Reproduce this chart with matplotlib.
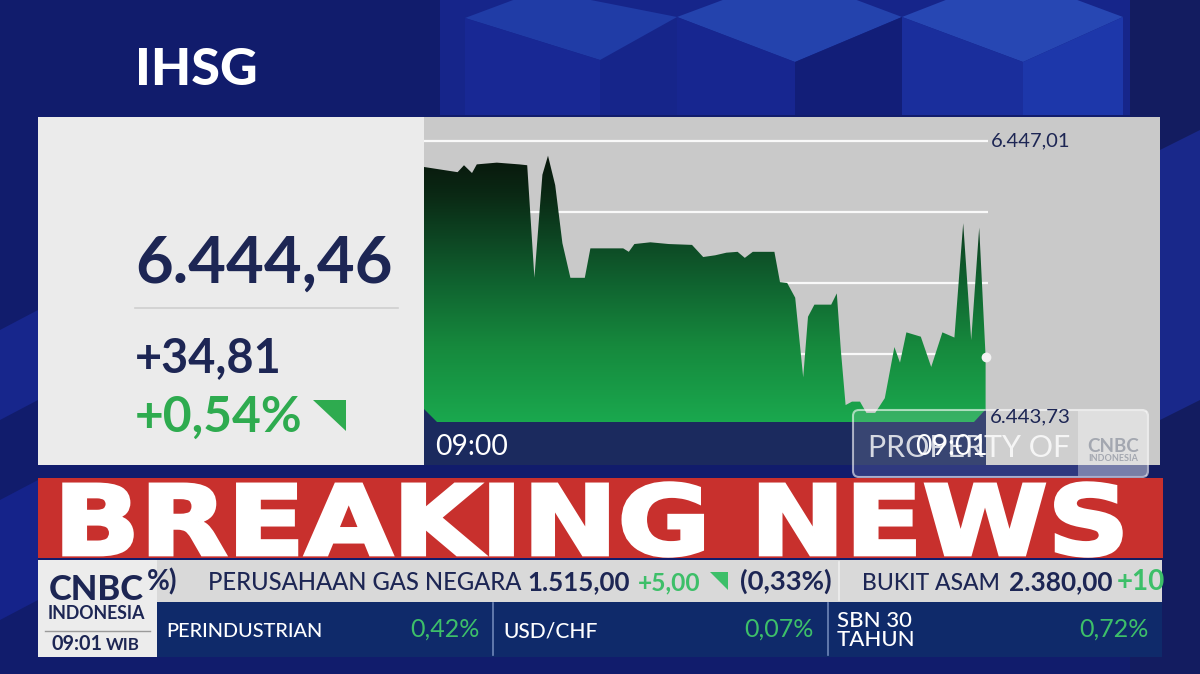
import numpy as np
import matplotlib
matplotlib.use('Agg')
import matplotlib.pyplot as plt
from matplotlib.patches import Polygon, Rectangle, FancyBboxPatch, PathPatch
from matplotlib.colors import LinearSegmentedColormap
from matplotlib.textpath import TextPath
from matplotlib.font_manager import FontProperties
from matplotlib.transforms import Affine2D

# IHSG intraday, seconds after 09:00 and index level
sec = [0, 4.2, 5, 6, 6.6, 9.1, 11.9, 12.9, 13.8, 14.8, 15.5, 16.4, 17.3, 18.3,
       20.1, 20.8, 24.9, 25.6, 26.3, 28.3, 30.6, 33.5, 34.9, 36.4, 37.8, 39.2,
       40.1, 41.1, 43.8, 44.5, 45.4, 46.4, 47.4, 48.0, 48.8, 50.9, 51.6, 52.1,
       52.7, 53.5, 54.5, 55.3, 56.4, 57.6, 58.8, 59.5, 60.3, 62.1, 63.4, 64.8,
       66.3, 67.4, 68.4, 69.4, 70.2]
level = [6446.71, 6446.65, 6446.73, 6446.64, 6446.74, 6446.76, 6446.74, 6446.73,
         6445.43, 6446.62, 6446.84, 6446.50, 6445.83, 6445.43, 6445.43, 6445.77,
         6445.77, 6445.73, 6445.82, 6445.84, 6445.82, 6445.81, 6445.67, 6445.69,
         6445.72, 6445.73, 6445.66, 6445.73, 6445.73, 6445.38, 6445.37, 6445.20,
         6444.28, 6444.98, 6445.12, 6445.12, 6445.25, 6444.60, 6443.96, 6444.00,
         6444.00, 6443.87, 6443.87, 6444.04, 6444.63, 6444.45, 6444.80, 6444.75,
         6444.40, 6444.80, 6444.74, 6446.06, 6444.71, 6446.01, 6444.52]
grid_levels = [6447.01, 6446.19, 6445.37, 6444.55]
hi_label, lo_label = '6.447,01', '6.443,73'
time_labels = ['09:00', '09:01']

last_value = '6.444,46'
change_abs = '+34,81'
change_pct = '+0,54%'

ticker_top = [('PERUSAHAAN GAS NEGARA', '1.515,00', '+5,00', '(0,33%)'),
              ('BUKIT ASAM', '2.380,00', '+10', '')]
ticker_bottom = [('PERINDUSTRIAN', '0,42%'), ('USD/CHF', '0,07%'), ('SBN 30\nTAHUN', '0,72%')]

NAVY = '#1d2654'
GREEN = '#2eab4f'
TGREEN = '#3dbf69'
FONT = 'Lato'

fig = plt.figure(figsize=(12, 6.74), dpi=100)
R = fig.canvas.get_renderer()

bg = fig.add_axes([0, 0, 1, 1], zorder=0)
bg.set_xlim(0, 1200)
bg.set_ylim(674, 0)
bg.axis('off')

ov = fig.add_axes([0, 0, 1, 1], zorder=2)
ov.set_xlim(0, 1200)
ov.set_ylim(674, 0)
ov.axis('off')
ov.patch.set_alpha(0)


def put(a, x, y, s, w=None, size=14, **kw):
    kw.setdefault('va', 'baseline')
    kw.setdefault('family', FONT)
    t = a.text(x, y, s, fontsize=size, **kw)
    if w:
        bb = t.get_window_extent(renderer=R)
        t.set_fontsize(size * w / bb.width)
    return t


def poly(a, pts, c, **kw):
    a.add_patch(Polygon(pts, closed=True, fc=c, ec='none', **kw))


# %% background with cubes
bg.add_patch(Rectangle((0, 0), 1200, 674, fc='#111c6c', ec='none'))
poly(bg, [(440, 0), (1130, 0), (1130, 115), (440, 115)], '#16258a')
poly(bg, [(677, 17), (790, -25), (902, 17), (795, 62)], '#2443ad')
poly(bg, [(902, 17), (1010, -25), (1123, 17), (1023, 62)], '#2747b3')
poly(bg, [(465, 18), (540, -10), (677, 17), (600, 60)], '#203ca6')
poly(bg, [(677, 17), (795, 62), (795, 115), (677, 115)], '#172690')
poly(bg, [(795, 62), (902, 17), (902, 115), (795, 115)], '#121e78')
poly(bg, [(902, 17), (1023, 62), (1023, 115), (902, 115)], '#1a2e9c')
poly(bg, [(1023, 62), (1123, 17), (1123, 115), (1023, 115)], '#1d37aa')
poly(bg, [(465, 18), (600, 60), (600, 115), (465, 115)], '#182894')
poly(bg, [(1130, 0), (1200, 0), (1200, 674), (1130, 674)], '#131c60')
poly(bg, [(1160, 150), (1200, 130), (1200, 400), (1160, 420)], '#19288a')
poly(bg, [(0, 330), (38, 310), (38, 400), (0, 420)], '#17268c')
poly(bg, [(0, 500), (38, 480), (38, 600), (0, 620)], '#15238a')

# %% panels
bg.add_patch(Rectangle((38, 117), 386, 348, fc='#ebebeb', ec='none'))
bg.add_patch(Rectangle((424, 117), 736, 348, fc='#c9c9c9', ec='none'))
bg.plot([135, 398], [308, 308], color='#cfcfcf', lw=1.2)

put(bg, 135, 85, 'IHSG', w=122, size=36, color='white', weight='black')
put(bg, 135, 283, last_value, w=258, size=46, color=NAVY, weight='bold')
put(bg, 135, 372, change_abs, w=147, size=34, color=NAVY, weight='bold')
put(bg, 135, 432, change_pct, w=168, size=34, color=GREEN, weight='bold')
poly(bg, [(313, 400), (346, 400), (346, 431)], GREEN)

# %% chart
ylo = 6443.73 + 3 * 3.28 / 284
yhi = 6443.73 + 308 * 3.28 / 284
ax = fig.add_axes([424 / 1200, 1 - 422 / 674, (988 - 424) / 1200, (422 - 117) / 674], zorder=1)
ax.set_facecolor('none')
for g in grid_levels:
    ax.axhline(g, color='white', lw=1.6, alpha=0.9, zorder=1)
fill = ax.fill_between(sec, level, ylo, facecolor='none', edgecolor='none', zorder=2)
cmap = LinearSegmentedColormap.from_list('ihsg', [
    (0.0, '#1aa84e'), (0.25, '#16893d'), (0.45, '#106430'), (0.6, '#0d4623'),
    (0.75, '#0a2814'), (0.9, '#08130a'), (1.0, '#060d07')])
grad = np.linspace(0, 1, 256).reshape(-1, 1)
im = ax.imshow(grad, extent=[0, 70.5, ylo, yhi], origin='lower', aspect='auto',
               cmap=cmap, zorder=2)
im.set_clip_path(fill.get_paths()[0], transform=ax.transData)
ax.plot(sec[-1], level[-1], 'o', color='#f2f2f2', ms=6, zorder=4, clip_on=False)
ax.set_xlim(0, 70.5)
ax.set_ylim(ylo, yhi)
ax.axis('off')

ax.text(1.005, grid_levels[0], hi_label, transform=ax.get_yaxis_transform(),
        ha='left', va='center', fontsize=14.5, color=NAVY, family=FONT)

# time bar under the chart
poly(ov, [(424, 409), (437, 422), (974, 422), (986, 409), (986, 465), (424, 465)], '#1b2a5e')
put(ov, 435, 455, time_labels[0], w=73, size=18, color='white')
put(ov, 915, 455, time_labels[1], w=73, size=18, color='white')
put(ov, 990, 422, lo_label, w=81, size=14.5, color=NAVY)

# watermark
ov.add_patch(FancyBboxPatch((853, 410), 295, 67, boxstyle='round,pad=0,rounding_size=6',
                            fc=(1, 1, 1, 0.13), ec=(1, 1, 1, 0.6), lw=1.5))
ov.add_patch(Rectangle((1078, 411), 69, 65, fc=(1, 1, 1, 0.35), ec='none'))
put(ov, 868, 457, 'PROPERTY OF', w=202, size=20, color=(1, 1, 1, 0.8))
put(ov, 1087, 452, 'CNBC', w=52, size=14, color='#a3a7b0', weight='bold')
put(ov, 1088, 461, 'INDONESIA', w=50, size=6, color='#a3a7b0', weight='bold')

# %% breaking news banner
ov.add_patch(Rectangle((38, 478), 1125, 80, fc='#c8302d', ec='none'))
tp = TextPath((0, 0), 'BREAKING NEWS', size=100,
              prop=FontProperties(family='DejaVu Sans', weight='bold'))
ext = tp.get_extents()
tr = (Affine2D().translate(-ext.x0, -ext.y0)
      .scale((1121 - 64) / ext.width, -(556 - 483) / ext.height).translate(64, 556))
ov.add_patch(PathPatch(tr.transform_path(tp), fc='white', ec='white', lw=2.5,
                       joinstyle='miter'))

# %% ticker rows
ov.add_patch(Rectangle((150, 560), 1012, 42, fc='#d9d9d9', ec='none'))
ov.add_patch(Rectangle((150, 602), 1012, 55, fc='#0f2a6a', ec='none'))
put(ov, 177, 590, '%)', size=20, color=NAVY, weight='bold', ha='right')

name, price, chg, pct = ticker_top[0]
put(ov, 208, 590, name, w=314, size=20, color=NAVY, weight='medium')
put(ov, 527, 590, price, w=103, size=20, color=NAVY, weight='bold')
put(ov, 638, 590, chg, w=63, size=20, color=TGREEN, weight='bold')
poly(ov, [(710, 572), (728, 572), (728, 590)], TGREEN)
put(ov, 740, 590, pct, w=92, size=20, color=NAVY, weight='bold')
ov.plot([839, 839], [562, 600], color='#eeeeee', lw=1.2)
name, price, chg, pct = ticker_top[1]
put(ov, 862, 590, name, w=138, size=20, color=NAVY, weight='medium')
put(ov, 1009, 590, price, w=104, size=20, color=NAVY, weight='bold')
t = put(ov, 1117, 590, chg, size=20, color=TGREEN, weight='bold')
t.set_clip_path(Rectangle((150, 560), 1012, 42, transform=ov.transData))

bx = [(166, 480), (503, 814), (837, 1149)]
bw = [157, 95, 75]
for (name, pct), (x0, x1), w in zip(ticker_bottom, bx, bw):
    if '\n' in name:
        l1, l2 = name.split('\n')
        t1 = put(ov, x0, 627, l1, w=w, size=15, color='white', weight='medium')
        put(ov, x0, 646, l2, size=t1.get_fontsize(), color='white', weight='medium')
    else:
        put(ov, x0, 637, name, w=w, size=15, color='white', weight='medium')
    put(ov, x1, 637, pct, size=18, color=TGREEN, ha='right')
for x in (493, 828):
    ov.plot([x, x], [603, 655], color='#6f86b8', lw=1.2)

# CNBC logo box
ov.add_patch(Rectangle((38, 560), 119, 97, fc='#ececec', ec='none'))
put(ov, 49, 600, 'CNBC', w=95, size=24, color=NAVY, weight='black')
put(ov, 48, 619, 'INDONESIA', w=98, size=11, color=NAVY, weight='bold')
ov.plot([45, 150], [631, 631], color='#9a9a9a', lw=1)
put(ov, 52, 650, '09:01', w=51, size=14, color=NAVY, weight='bold')
put(ov, 106, 650, 'WIB', w=34, size=10, color=NAVY, weight='bold')

fig.savefig('out.png', dpi=100)
